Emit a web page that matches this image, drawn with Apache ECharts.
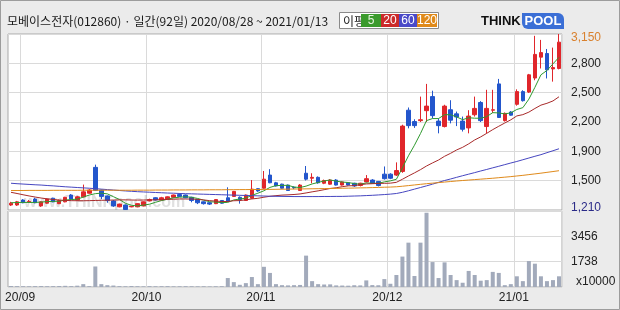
<!DOCTYPE html>
<html><head><meta charset="utf-8">
<script src="https://cdn.jsdelivr.net/npm/echarts@6/dist/echarts.min.js"></script>
<style>html,body{margin:0;padding:0;background:#ebebeb;}#c{width:620px;height:310px;}</style>
</head><body><div id="c"></div>
<script>
// ---- data ----
const dates = [
'2020/08/28','2020/08/31',
'2020/09/01','2020/09/02','2020/09/03','2020/09/04','2020/09/07','2020/09/08','2020/09/09','2020/09/10','2020/09/11',
'2020/09/14','2020/09/15','2020/09/16','2020/09/17','2020/09/18','2020/09/21','2020/09/22','2020/09/23','2020/09/24','2020/09/25',
'2020/09/28','2020/09/29',
'2020/10/05','2020/10/06','2020/10/07','2020/10/08','2020/10/12','2020/10/13','2020/10/14','2020/10/15','2020/10/16',
'2020/10/19','2020/10/20','2020/10/21','2020/10/22','2020/10/23','2020/10/26','2020/10/27','2020/10/28','2020/10/29','2020/10/30',
'2020/11/02','2020/11/03','2020/11/04','2020/11/05','2020/11/06','2020/11/09','2020/11/10','2020/11/11','2020/11/12','2020/11/13',
'2020/11/16','2020/11/17','2020/11/18','2020/11/19','2020/11/20','2020/11/23','2020/11/24','2020/11/25','2020/11/26','2020/11/27','2020/11/30',
'2020/12/01','2020/12/02','2020/12/03','2020/12/04','2020/12/07','2020/12/08','2020/12/09','2020/12/10','2020/12/11',
'2020/12/14','2020/12/15','2020/12/16','2020/12/17','2020/12/18','2020/12/21','2020/12/22','2020/12/23','2020/12/24',
'2020/12/28','2020/12/29','2020/12/30',
'2021/01/04','2021/01/05','2021/01/06','2021/01/07','2021/01/08','2021/01/11','2021/01/12','2021/01/13'
];
const opens = [
1265,1265,1320,1295,1330,1255,1285,1340,1280,1300,
1375,1320,1355,1395,1680,1430,1365,1310,1245,1265,
1245,1245,1255,1310,1345,1320,1330,1350,1380,1375,
1350,1325,1300,1290,1280,1315,1345,1360,1350,1315,
1340,1445,1450,1595,1510,1495,1485,1460,1425,1615,
1560,1570,1505,1495,1540,1485,1510,1505,1480,1520,
1540,1525,1605,1605,1595,1635,2310,2185,2195,2305,
2460,2190,2130,2315,2270,2190,2115,2260,2395,2130,
2310,2600,2195,2290,2375,2515,2510,2665,2895,2935,
2765,2770];
const closes = [
1285,1300,1290,1305,1290,1300,1330,1300,1315,1350,
1330,1355,1410,1430,1425,1360,1315,1255,1275,1215,
1250,1280,1300,1325,1320,1345,1355,1375,1360,1345,
1315,1290,1280,1275,1325,1285,1305,1415,1325,1375,
1440,1420,1550,1510,1475,1450,1425,1455,1485,1550,
1570,1510,1535,1540,1485,1520,1485,1475,1505,1555,
1505,1480,1555,1560,1645,2135,2140,2140,2205,2355,
2250,2140,2355,2200,2235,2100,2245,2330,2195,2330,
2315,2230,2275,2255,2515,2415,2700,2925,2945,2755,
2780,3060];
const highs = [
1300,1310,1330,1320,1345,1305,1335,1345,1325,1355,
1385,1365,1490,1440,1710,1435,1370,1320,1280,1270,
1255,1285,1305,1335,1350,1355,1360,1380,1395,1380,
1355,1330,1305,1295,1330,1320,1460,1420,1360,1380,
1540,1450,1640,1660,1520,1500,1490,1470,1495,1695,
1615,1580,1545,1550,1550,1525,1515,1510,1510,1595,
1550,1530,1690,1615,1735,2150,2340,2210,2460,2600,
2525,2220,2370,2420,2295,2240,2310,2460,2410,2535,
2535,2655,2285,2300,2540,2530,2710,3130,3085,2985,
3000,3150];
const lows = [
1255,1255,1285,1290,1285,1245,1280,1295,1275,1295,
1325,1315,1350,1390,1420,1330,1290,1245,1240,1210,
1240,1240,1250,1305,1315,1315,1325,1345,1355,1340,
1295,1275,1270,1265,1275,1280,1300,1355,1280,1310,
1335,1410,1445,1505,1470,1445,1420,1440,1420,1535,
1505,1500,1495,1490,1480,1480,1480,1465,1470,1515,
1500,1470,1545,1550,1585,1620,2110,2115,2180,2180,
2220,2055,2120,2165,2135,2075,2055,2240,2180,2055,
2280,2225,2185,2250,2360,2405,2500,2640,2770,2660,
2625,2760];
const volumes = [
70,60,55,50,60,65,55,60,70,80,
60,90,195,60,1400,195,125,100,60,50,
70,55,45,60,50,55,60,45,50,55,
50,45,50,40,50,55,612,334,150,265,
680,195,1378,960,195,125,110,125,140,2140,
400,195,170,180,110,100,90,120,110,450,
130,120,540,220,820,2075,3025,750,3025,5065,
1700,612,1680,820,470,290,1095,820,430,470,
1030,960,125,195,730,400,1770,1590,730,400,
470,730];
const ma5 = [
1290,1292,1294,1293,1294,1297,1303,1305,1307,1319,
1325,1330,1352,1375,1390,1396,1388,1357,1326,1284,
1262,1255,1264,1274,1295,1314,1329,1344,1351,1356,
1350,1337,1318,1301,1297,1291,1294,1321,1331,1341,
1372,1395,1422,1459,1479,1481,1482,1463,1458,1473,
1497,1514,1530,1541,1528,1518,1513,1501,1494,1508,
1505,1504,1520,1531,1549,1675,1807,1924,2053,2195,
2218,2218,2261,2260,2236,2206,2227,2222,2221,2240,
2283,2280,2269,2281,2318,2338,2432,2562,2700,2748,
2821,2893];
const ma20 = [
1405,1392,1378,1365,1353,1342,1333,1326,1320,1316,
1313,1312,1312,1313,1315,1317,1318,1320,1321,1322,
1320,1319,1320,1321,1322,1324,1326,1329,1332,1331,
1331,1327,1321,1313,1308,1304,1304,1312,1314,1322,
1332,1339,1351,1361,1368,1374,1377,1381,1387,1398,
1410,1421,1434,1447,1455,1467,1476,1479,1488,1497,
1500,1503,1504,1506,1515,1549,1585,1619,1655,1695,
1729,1761,1802,1835,1872,1901,1939,1982,2016,2055,
2096,2133,2169,2204,2247,2261,2289,2329,2366,2386,
2412,2458];
const ma60 = [
1505,1500,1496,1492,1488,1485,1480,1476,1471,1466,
1462,1458,1454,1450,1445,1440,1435,1430,1425,1420,
1416,1412,1409,1406,1403,1400,1397,1395,1392,1390,
1388,1386,1384,1382,1380,1378,1376,1374,1372,1370,
1368,1366,1364,1362,1361,1360,1359,1358,1358,1358,
1358,1358,1359,1359,1360,1360,1362,1364,1366,1369,
1372,1376,1380,1385,1392,1405,1422,1440,1458,1476,
1495,1515,1535,1552,1570,1588,1605,1622,1640,1657,
1675,1692,1710,1728,1745,1764,1783,1802,1820,1842,
1863,1885];
const ma120 = [
1425,1425,1425,1426,1426,1426,1426,1427,1427,1427,
1427,1427,1428,1428,1428,1428,1428,1428,1428,1428,
1428,1429,1429,1429,1430,1430,1430,1431,1431,1431,
1432,1432,1432,1433,1433,1433,1434,1434,1435,1435,
1436,1436,1437,1437,1438,1439,1440,1441,1442,1443,
1444,1445,1446,1447,1448,1450,1451,1452,1454,1455,
1457,1459,1461,1463,1466,1472,1479,1486,1493,1500,
1506,1512,1518,1524,1530,1535,1540,1545,1550,1555,
1560,1566,1572,1578,1585,1592,1600,1608,1616,1625,
1634,1643];
const priceTickLabels = ['1,210','1,500','1,900','2,200','2,500','2,800','3,150'];
const volumeTickLabels = ['x10000','1738','3456',''];
const priceMin = 1210, priceMax = 3150;
const volMax = 5184;

// ---- chart ----
const priceStep = (priceMax - priceMin) / 6;
const volStep = volMax / 3;
const isMonthStart = (i) => i > 0 && dates[i].slice(0, 7) !== dates[i - 1].slice(0, 7);
const candleData = dates.map((d, i) => [opens[i], closes[i], lows[i], highs[i]]);
const FONT = '"Liberation Sans", Arial, sans-serif';
const KFONT = '"Noto Sans CJK KR", "Liberation Sans", sans-serif';
const gridLine = { show: true, lineStyle: { color: '#dadada', width: 1 } };

const chart = echarts.init(document.getElementById('c'), null, { renderer: 'canvas' });
const xCommon = {
  type: 'category', data: dates, boundaryGap: true,
  axisLine: { show: false }, axisTick: { show: false },
  splitLine: { show: true, interval: (i) => isMonthStart(i), lineStyle: { color: '#dadada' } }
};
chart.setOption({
  animation: false,
  backgroundColor: '#ebebeb',
  grid: [
    { left: 8, right: 58, top: 34, height: 176, show: true, backgroundColor: '#fff', borderColor: '#a9a9a9', borderWidth: 1 },
    { left: 8, right: 58, top: 211, height: 76, show: true, backgroundColor: '#fff', borderColor: '#a9a9a9', borderWidth: 1 }
  ],
  xAxis: [
    Object.assign({ gridIndex: 0, axisLabel: { show: false } }, xCommon),
    Object.assign({ gridIndex: 1, axisLabel: {
      show: true, interval: (i) => isMonthStart(i), margin: 5,
      formatter: (v) => v.slice(2, 4) + '/' + v.slice(5, 7),
      color: '#222', fontSize: 12, fontFamily: FONT, padding: [0, 6, 0, 0]
    } }, xCommon)
  ],
  yAxis: [
    { gridIndex: 0, type: 'value', position: 'right', min: priceMin, max: priceMax, interval: priceStep,
      axisLine: { show: false }, axisTick: { show: false }, splitLine: gridLine,
      axisLabel: { margin: 9, fontSize: 12, fontFamily: FONT, color: '#222',
        formatter: (v, idx) => {
          if (idx > 6) return '';
          const k = Math.round((v - priceMin) / priceStep);
          const t = priceTickLabels[k];
          if (k === 6) return '{top|' + t + '}';
          if (k === 0) return '{bot|' + t + '}';
          return '{mid|' + t + '}';
        },
        rich: {
          top: { color: '#d9812e', fontSize: 12, fontFamily: FONT, padding: [8, 0, 0, 0] },
          bot: { color: '#2b2b88', fontSize: 12, fontFamily: FONT, padding: [0, 0, 4, 0] },
          mid: { color: '#222', fontSize: 12, fontFamily: FONT }
        } } },
    { gridIndex: 1, type: 'value', position: 'right', min: 0, max: volMax, interval: volStep,
      axisLine: { show: false }, axisTick: { show: false }, splitLine: gridLine,
      axisLabel: { margin: 9, fontSize: 12, fontFamily: FONT, color: '#222',
        formatter: (v, idx) => {
          const k = Math.round(v / volStep);
          if (idx > 3) return '';
          if (k === 0) return '{unit|' + volumeTickLabels[0] + '}';
          return '{mid|' + volumeTickLabels[k] + '}';
        },
        rich: {
          unit: { color: '#222', fontSize: 12, fontFamily: FONT, padding: [0, 0, 10, 5] },
          mid: { color: '#222', fontSize: 12, fontFamily: FONT }
        } } }
  ],
  graphic: [
    { type: 'rect', shape: { x: 0.5, y: 0.5, width: 619, height: 309 }, style: { fill: 'none', stroke: '#9c9c9c' }, z: 100 },
    { type: 'text', x: 7, y: 21, z: 10, style: { text: '모베이스전자(012860) · 일간(92일) 2020/08/28 ~ 2021/01/13', font: '12px ' + KFONT, fill: '#1a1a1a', verticalAlign: 'middle' } },
    { type: 'rect', shape: { x: 339.5, y: 12.5, width: 99, height: 16 }, style: { fill: '#fff', stroke: '#8a8a8a' }, z: 10 },
    { type: 'text', x: 343, y: 21, z: 11, style: { text: '이평', font: '12px ' + KFONT, fill: '#222', verticalAlign: 'middle' } },
    { type: 'rect', shape: { x: 361, y: 14, width: 20, height: 13 }, style: { fill: '#3a9a2c' }, z: 11 },
    { type: 'text', x: 371, y: 21, z: 12, style: { text: '5', font: '12px ' + FONT, fill: '#e8f5e0', align: 'center', verticalAlign: 'middle' } },
    { type: 'rect', shape: { x: 381, y: 14, width: 18, height: 13 }, style: { fill: '#cc2a2a' }, z: 11 },
    { type: 'text', x: 390, y: 21, z: 12, style: { text: '20', font: '12px ' + FONT, fill: '#fff', align: 'center', verticalAlign: 'middle' } },
    { type: 'rect', shape: { x: 399, y: 14, width: 18, height: 13 }, style: { fill: '#4a4ac8' }, z: 11 },
    { type: 'text', x: 408, y: 21, z: 12, style: { text: '60', font: '12px ' + FONT, fill: '#fff', align: 'center', verticalAlign: 'middle' } },
    { type: 'rect', shape: { x: 417, y: 14, width: 20, height: 13 }, style: { fill: '#e08a1a' }, z: 11 },
    { type: 'text', x: 427, y: 21, z: 12, style: { text: '120', font: '12px ' + FONT, fill: '#fff', align: 'center', verticalAlign: 'middle' } },
    { type: 'text', x: 481, y: 21, z: 10, style: { text: 'THINK', font: 'bold 13px ' + FONT, fill: '#111', verticalAlign: 'middle' } },
    { type: 'rect', shape: { x: 522, y: 13, width: 42, height: 16, r: [0, 6, 0, 6] }, style: { fill: '#3b6fd6' }, z: 10 },
    { type: 'text', x: 543, y: 21, z: 11, style: { text: 'POOL', font: 'bold 13px ' + FONT, fill: '#fff', align: 'center', verticalAlign: 'middle' } },
    { type: 'text', x: 24, y: 203, z: 1, style: { text: 'www.THINKpool.com', font: 'bold 16px ' + FONT, fill: 'rgba(130,130,130,0.25)', verticalAlign: 'middle' } }
  ],
  series: [
    { type: 'candlestick', xAxisIndex: 0, yAxisIndex: 0, data: candleData, barWidth: 4, z: 3,
      itemStyle: { color: '#e0262b', color0: '#2356cc', borderColor: '#e0262b', borderColor0: '#2356cc', borderWidth: 1 } },
    { type: 'line', name: '5', xAxisIndex: 0, yAxisIndex: 0, data: ma5, symbol: 'none', z: 4, lineStyle: { color: '#2f9a2f', width: 1 } },
    { type: 'line', name: '20', xAxisIndex: 0, yAxisIndex: 0, data: ma20, symbol: 'none', z: 4, lineStyle: { color: '#a82a2a', width: 1 } },
    { type: 'line', name: '60', xAxisIndex: 0, yAxisIndex: 0, data: ma60, symbol: 'none', z: 4, lineStyle: { color: '#4646c0', width: 1 } },
    { type: 'line', name: '120', xAxisIndex: 0, yAxisIndex: 0, data: ma120, symbol: 'none', z: 4, lineStyle: { color: '#e08a1a', width: 1 } },
    { type: 'bar', xAxisIndex: 1, yAxisIndex: 1, data: volumes, barWidth: 4, itemStyle: { color: '#a2aabb' } }
  ]
});
</script></body></html>
